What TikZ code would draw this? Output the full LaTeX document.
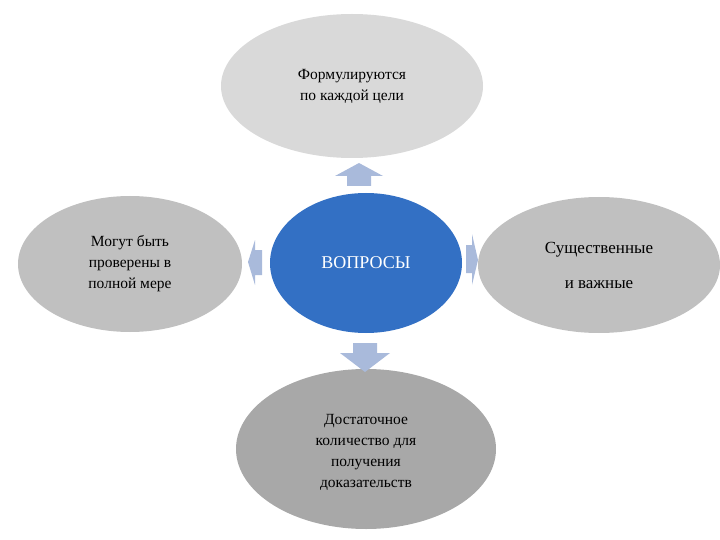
\documentclass[tikz,border=0pt]{standalone}
\usepackage{fontspec}
\setmainfont{Liberation Serif}
\begin{document}
\begin{tikzpicture}[x=1pt,y=-1pt,
  el/.style={ellipse,minimum width=#1},
  txt/.style={font=\fontsize{15.5}{21}\selectfont,align=center},
  arr/.style={fill=arrowc}]
\useasboundingbox (0,0) rectangle (720,540);
\definecolor{arrowc}{HTML}{A9BADB}
\definecolor{topc}{HTML}{D9D9D9}
\definecolor{sidec}{HTML}{C0C0C0}
\definecolor{botc}{HTML}{A8A8A8}
\definecolor{bluec}{HTML}{3370C4}
\fill[topc] (352,86) ellipse [x radius=131,y radius=72];
\fill[sidec] (130,264) ellipse [x radius=112,y radius=68];
\fill[sidec] (599,265) ellipse [x radius=121,y radius=68];
\fill[botc] (366,449) ellipse [x radius=130,y radius=80];
\fill[bluec] (366,263) ellipse [x radius=96,y radius=70];
\node[txt] (t) at (352,86) {Формулируются\\по каждой цели};
\node[txt] (l) at (130,264) {Могут быть\\проверены в\\полной мере};
\node[txt,font=\fontsize{17}{35}\selectfont] (r) at (599,265) {Существенные\\и важные};
\node[txt] (b) at (366,452) {Достаточное\\количество для\\получения\\доказательств};
\node[txt,text=white,font=\fontsize{18}{22}\selectfont] (c) at (366,263) {ВОПРОСЫ};
% block arrows
\fill[arr] (347,186)--(347,176)--(335,176)--(359,163)--(383,176)--(371,176)--(371,186)--cycle;
\fill[arr] (262,250)--(255,250)--(255,240)--(248,262)--(255,285)--(255,275)--(262,275)--cycle;
\fill[arr] (466,245)--(472,245)--(472,234)--(478,260)--(472,285)--(472,273)--(466,273)--cycle;
\fill[arr] (353,343)--(377,343)--(377,353)--(390,353)--(365,372)--(340,353)--(353,353)--cycle;
\end{tikzpicture}
\end{document}
